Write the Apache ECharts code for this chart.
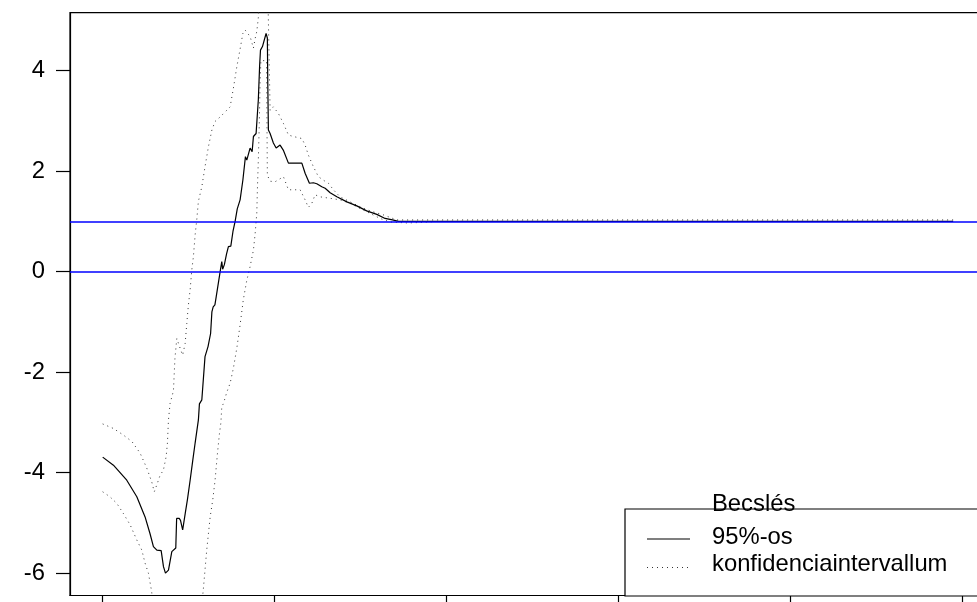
<!DOCTYPE html>
<html><head><meta charset="utf-8">
<script src="https://cdn.jsdelivr.net/npm/echarts@6/dist/echarts.min.js"></script>
<style>html,body{margin:0;padding:0;background:#fff}#c{width:977px;height:602px}</style>
</head><body><div id="c"></div>
<script>
// Estimate (solid line)
const estX = [1,13.5,29,40.7,50.3,56,60,64,69,71.7,74,77.5,81.4,83.3,86,87,90,91.5,94,97,99.5,102.7,105.8,108.5,112.3,113.5,116.3,120,123.5,126.5,128,129.5,131.5,133,137.6,139.5,140.5,142.5,145,147.2,150,152.5,155,157.5,160.8,164,167,168.6,172.4,174.8,176.3,179.4,182,183.5,184.5,186.8,191,192.5,193,193.7,195.7,199.5,202.7,207.3,211,217,232.6,236.4,241.4,246,250,252,255.8,259.7,265.5,273.3,285,296.5,308,319.8,329.4,338,345,990];
const estY = [-3.69,-3.85,-4.15,-4.48,-4.88,-5.21,-5.47,-5.54,-5.55,-5.87,-6.0,-5.94,-5.57,-5.6,-5.5,-4.91,-4.91,-4.95,-5.14,-4.81,-4.54,-4.15,-3.75,-3.41,-2.95,-2.63,-2.55,-1.69,-1.49,-1.23,-0.8,-0.7,-0.66,-0.5,0.0,0.2,0.05,0.14,0.35,0.5,0.51,0.8,1.0,1.25,1.43,1.82,2.29,2.22,2.46,2.39,2.69,2.75,3.42,4.1,4.41,4.48,4.74,4.65,3.75,2.82,2.75,2.56,2.46,2.52,2.42,2.16,2.16,1.96,1.76,1.77,1.75,1.78,1.69,1.66,1.57,1.49,1.39,1.31,1.21,1.14,1.06,1.03,1.0,1.0];
// Upper confidence bound (dotted)
const upX = [1,13.5,25,35,44.5,52.3,58,61,64,67.8,71.6,74.8,76.3,77.5,79.4,83.3,85,87.2,91,94,96.9,98.8,100.7,102.7,104.6,106.5,108.5,110.5,112.3,116.3,120,124,128,131.7,137.6,143.4,149.2,153,157,160.8,164,166.6,172.4,176.3,178.3,180.2,182,183.5,192,195.7,199.5,205.3,211.2,217,222.8,232.6,236.4,240.2,246,251.9,257.7,263.5,269.3,277,288.7,304.2,315.8,327.4,343,990];
const upY = [-3.03,-3.12,-3.25,-3.38,-3.61,-3.91,-4.18,-4.38,-4.24,-4.05,-3.95,-3.68,-3.41,-2.95,-2.62,-2.37,-1.73,-1.33,-1.52,-1.66,-1.43,-1.03,-0.66,-0.36,0.03,0.3,0.73,1.05,1.4,1.69,2.09,2.49,2.82,2.99,3.08,3.18,3.28,3.65,4.08,4.43,4.74,4.81,4.68,4.45,4.64,4.78,5.05,6.5,6.5,3.21,3.28,3.15,2.95,2.72,2.69,2.65,2.52,2.32,2.09,1.89,1.82,1.76,1.63,1.49,1.39,1.26,1.19,1.13,1.03,1.03];
// Lower confidence bound (dotted)
const loX = [1,9.5,17.4,25,33,40.7,46.5,50.3,54.2,58,62,70,90,105,114,118,122,126,129,131.7,134.5,136.8,138.5,139.5,141.5,145.3,149.2,153,157,160.8,164.5,168.6,172.4,176.3,178.3,180.2,181,182,183.3,184,185,191.5,192.5,195.7,201.5,211.2,217,230.6,236.4,240.2,244.2,248,253.8,265.5,277,288.7,300.3,312,323.6,335,355,372,390,990];
const loY = [-4.38,-4.48,-4.61,-4.81,-5.04,-5.34,-5.54,-5.8,-6.0,-6.37,-7.2,-7.5,-8.5,-8.0,-7.0,-6.33,-5.54,-4.88,-4.54,-4.15,-3.61,-3.22,-3.0,-2.69,-2.62,-2.4,-2.22,-1.92,-1.52,-1.06,-0.56,-0.17,0.1,0.43,0.76,1.16,1.69,2.22,3.08,3.75,4.2,4.2,1.92,1.8,1.79,1.89,1.63,1.63,1.43,1.28,1.36,1.53,1.49,1.46,1.43,1.36,1.26,1.16,1.06,0.99,0.97,0.98,1.0,1.0];
// Axes and reference lines
const yTicks = [-6,-4,-2,0,2,4];
const xTicks = [0,200,400,600,800,1000];
const refLines = [0,1];
const legendTitle = 'Becslés';
const legendLabels = ['95%-os','konfidenciaintervallum'];

const FONT = 'Liberation Sans, Arial, sans-serif';
const FS = 23.8;
const zip = (xs, ys) => xs.map((x, i) => [x, ys[i]]);
const dotted = {color:'#333', width:1, type:[1,4]};

const chart = echarts.init(document.getElementById('c'), null, {renderer:'canvas'});
chart.setOption({
  animation:false,
  backgroundColor:'#fff',
  grid:{left:70, width:918, top:12.7, height:582.8, containLabel:false, outerBoundsMode:'none',
    show:true, borderColor:'#000', borderWidth:1.2, backgroundColor:'transparent'},
  xAxis:{type:'value', min:-37, max:1030.5,
    axisLine:{show:true, onZero:false, lineStyle:{color:'#000', width:1.2}},
    axisTick:{show:true, length:14, customValues:xTicks, lineStyle:{color:'#000', width:1.2}},
    axisLabel:{show:false}, splitLine:{show:false}},
  yAxis:{type:'value', min:-6.444, max:5.154,
    axisLine:{show:true, onZero:false, lineStyle:{color:'#000', width:1.2}},
    axisTick:{show:true, length:14, customValues:yTicks, lineStyle:{color:'#000', width:1.2}},
    axisLabel:{show:true, customValues:yTicks, margin:25, color:'#000', fontSize:FS, fontFamily:FONT, formatter:v=>String(v)},
    splitLine:{show:false}},
  series:[
    {type:'line', data:zip(upX, upY), symbol:'none', clip:true, lineStyle:dotted, z:2},
    {type:'line', data:zip(loX, loY), symbol:'none', clip:true, lineStyle:dotted, z:2},
    {type:'line', data:zip(estX, estY), symbol:'none', clip:true, lineStyle:{color:'#000', width:1.2}, z:3,
      markLine:{silent:true, symbol:'none', label:{show:false}, animation:false,
        lineStyle:{color:'#0000ff', width:1.6, type:'solid'},
        data: refLines.map(v => ({yAxis:v}))}}
  ],
  graphic:[
    {type:'rect', z:10, shape:{x:625, y:509, width:420, height:87}, style:{fill:'#fff', stroke:'#000', lineWidth:1.2}},
    {type:'text', z:11, x:712, y:504, style:{text:legendTitle, font:FS+'px '+FONT, fill:'#000', verticalAlign:'middle'}},
    {type:'line', z:11, shape:{x1:647, y1:539, x2:690, y2:539}, style:{stroke:'#000', lineWidth:1.2}},
    {type:'text', z:11, x:712, y:537, style:{text:legendLabels[0], font:FS+'px '+FONT, fill:'#000', verticalAlign:'middle'}},
    {type:'line', z:11, shape:{x1:647, y1:567.5, x2:690, y2:567.5}, style:{stroke:'#333', lineWidth:1, lineDash:[1,4]}},
    {type:'text', z:11, x:712, y:564, style:{text:legendLabels[1], font:FS+'px '+FONT, fill:'#000', verticalAlign:'middle'}}
  ]
});
</script></body></html>
